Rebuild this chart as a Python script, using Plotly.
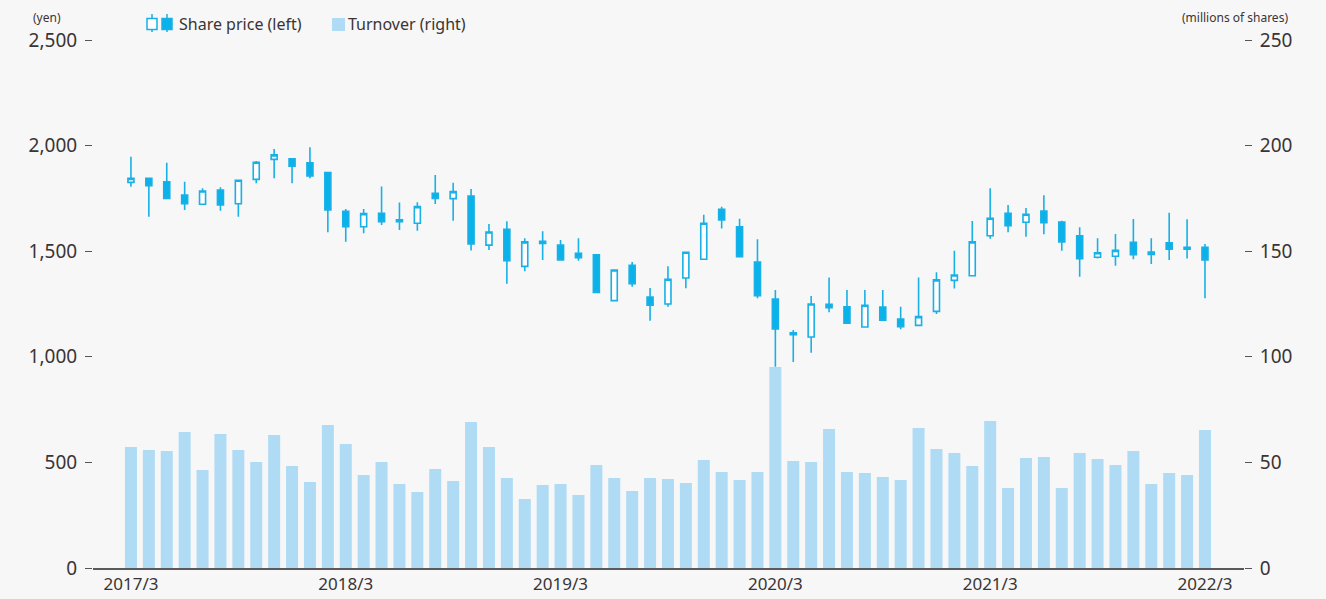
import plotly.graph_objects as go

# Month labels, March 2017 to March 2022
months = [f"{2017 + (m + 2) // 12}/{(m + 2) % 12 + 1}" for m in range(61)]

# Monthly share price (yen)
price_open = [1826, 1845, 1829, 1766, 1722, 1790, 1725, 1840, 1935, 1937, 1919, 1872,
              1689, 1616, 1680, 1649, 1632, 1774, 1749, 1761, 1529, 1604, 1428, 1547,
              1529, 1490, 1483, 1266, 1433, 1283, 1250, 1373, 1462, 1698, 1616, 1449,
              1274, 1114, 1094, 1249, 1237, 1141, 1236, 1179, 1149, 1215, 1362, 1384,
              1573, 1680, 1637, 1690, 1638, 1573, 1471, 1476, 1542, 1485, 1540, 1509,
              1518]
price_high = [1947, 1848, 1919, 1829, 1798, 1803, 1840, 1927, 1984, 1941, 1992, 1876,
              1700, 1700, 1806, 1730, 1732, 1861, 1824, 1795, 1629, 1642, 1561, 1594,
              1553, 1561, 1487, 1415, 1449, 1326, 1429, 1498, 1673, 1711, 1654, 1556,
              1316, 1127, 1288, 1376, 1316, 1316, 1316, 1237, 1375, 1400, 1502, 1643,
              1798, 1719, 1705, 1765, 1644, 1613, 1561, 1581, 1653, 1561, 1682, 1651,
              1534]
price_low = [1805, 1663, 1748, 1695, 1720, 1692, 1663, 1822, 1845, 1822, 1845, 1590,
             1545, 1585, 1624, 1600, 1597, 1724, 1644, 1503, 1506, 1346, 1405, 1458,
             1458, 1455, 1303, 1264, 1332, 1171, 1237, 1324, 1460, 1608, 1472, 1277,
             953, 975, 1019, 1211, 1157, 1139, 1171, 1130, 1147, 1203, 1323, 1382,
             1559, 1590, 1569, 1580, 1502, 1379, 1466, 1431, 1462, 1439, 1458, 1466,
             1277]
price_close = [1845, 1810, 1750, 1725, 1785, 1719, 1836, 1921, 1956, 1903, 1856, 1695,
               1616, 1678, 1640, 1640, 1711, 1750, 1782, 1534, 1591, 1455, 1544, 1537,
               1458, 1469, 1305, 1411, 1346, 1244, 1367, 1495, 1632, 1648, 1474, 1289,
               1132, 1105, 1250, 1233, 1159, 1244, 1173, 1143, 1190, 1364, 1387, 1544,
               1656, 1621, 1675, 1635, 1544, 1465, 1493, 1504, 1483, 1496, 1509, 1518,
               1458]

# Monthly turnover (millions of shares)
turnover = [57.3, 55.9, 55.4, 64.4, 46.4, 63.4, 55.9, 50.2, 63.0, 48.3, 40.7, 67.7,
            58.7, 44.0, 50.2, 39.8, 36.0, 46.9, 41.2, 69.1, 57.3, 42.6, 32.7, 39.3,
            39.8, 34.6, 48.8, 42.6, 36.5, 42.6, 42.1, 40.2, 51.1, 45.5, 41.7, 45.5,
            95.2, 50.7, 50.2, 65.8, 45.5, 45.0, 43.1, 41.7, 66.3, 56.3, 54.5, 48.3,
            69.6, 37.9, 52.1, 52.6, 37.9, 54.5, 51.6, 48.8, 55.4, 39.8, 45.0, 44.0,
            65.3]

year_ticks = months[::12]

BLUE = "#0ab2ea"
BLUE_LINE = "#18b0e6"
BAR = "#afdbf5"
BG = "#f7f7f7"
TEXT = "#3a3434"
FONT = "Noto Sans"

W, H = 1326, 599
M_L, M_R, M_T, M_B = 93, 82, 40, 31
PW, PH = W - M_L - M_R, H - M_T - M_B


def px(x):
    """Pixel column -> paper x."""
    return (x - M_L) / PW


def py(y):
    """Pixel row -> paper y."""
    return (H - M_B - y) / PH


fig = go.Figure()

fig.add_trace(go.Bar(
    x=months, y=turnover, name="Turnover (right)",
    marker=dict(color=BAR, line=dict(width=0)),
    yaxis="y", showlegend=False, hoverinfo="skip",
))

fig.add_trace(go.Candlestick(
    x=months, open=price_open, high=price_high, low=price_low, close=price_close,
    name="Share price (left)", yaxis="y2", showlegend=False,
    increasing=dict(fillcolor="#ffffff", line=dict(color=BLUE_LINE, width=1.6)),
    decreasing=dict(fillcolor=BLUE, line=dict(color=BLUE_LINE, width=1.6)),
    whiskerwidth=0,
))

# Legend key: hollow (rise) and filled (fall) candles, plus a turnover swatch
legend_shapes = []
for x0, fill in ((147, "#ffffff"), (162, BLUE)):
    xc = x0 + 5
    legend_shapes.append(dict(type="line", xref="paper", yref="paper",
                              x0=px(xc), x1=px(xc), y0=py(14), y1=py(32),
                              line=dict(color=BLUE_LINE, width=1.5), layer="above"))
    legend_shapes.append(dict(type="rect", xref="paper", yref="paper",
                              x0=px(x0), x1=px(x0 + 10), y0=py(18.5), y1=py(29.5),
                              fillcolor=fill, line=dict(color=BLUE_LINE, width=1.5),
                              layer="above"))
legend_shapes.append(dict(type="rect", xref="paper", yref="paper",
                          x0=px(332), x1=px(345), y0=py(18), y1=py(31),
                          fillcolor=BAR, line=dict(width=0), layer="above"))

fig.update_layout(
    width=W, height=H,
    margin=dict(l=M_L, r=M_R, t=M_T, b=M_B, autoexpand=False),
    paper_bgcolor=BG, plot_bgcolor=BG,
    font=dict(family=FONT, color=TEXT, size=17),
    bargap=0.33, boxgap=0.52,
    showlegend=False,
    shapes=legend_shapes,
    xaxis=dict(
        type="category", range=[-2.12, 62.18],
        tickmode="array", tickvals=year_ticks, ticktext=year_ticks,
        ticks="", showgrid=False, zeroline=False,
        showline=True, linecolor="#5a5a5a", linewidth=1.5,
        rangeslider=dict(visible=False),
        tickfont=dict(size=17, color=TEXT),
    ),
    yaxis=dict(
        side="right", range=[0, 250], tickvals=[0, 50, 100, 150, 200, 250],
        ticks="outside", ticklen=7, tickcolor="#555", tickwidth=1,
        showgrid=False, zeroline=False, showline=False,
        tickfont=dict(size=19, color=TEXT), ticklabelstandoff=4,
    ),
    yaxis2=dict(
        side="left", overlaying="y", range=[0, 2500],
        tickvals=[0, 500, 1000, 1500, 2000, 2500], tickformat=",d",
        ticks="outside", ticklen=7, tickcolor="#555", tickwidth=1,
        showgrid=False, zeroline=False, showline=False,
        tickfont=dict(size=19, color=TEXT), ticklabelstandoff=4,
    ),
    annotations=[
        dict(text="Share price (left)", xref="paper", yref="paper",
             x=px(177), y=py(24), xanchor="left", yanchor="middle",
             showarrow=False, font=dict(size=16, color=TEXT)),
        dict(text="Turnover (right)", xref="paper", yref="paper",
             x=px(346), y=py(24), xanchor="left", yanchor="middle",
             showarrow=False, font=dict(size=16, color=TEXT)),
        dict(text="(yen)", xref="paper", yref="paper", x=px(31), y=py(17),
             xanchor="left", yanchor="middle", showarrow=False,
             font=dict(size=12, color=TEXT)),
        dict(text="(millions of shares)", xref="paper", yref="paper",
             x=px(1290), y=py(17), xanchor="right", yanchor="middle",
             showarrow=False, font=dict(size=12, color=TEXT)),
    ],
)

fig.write_html("out.html")
